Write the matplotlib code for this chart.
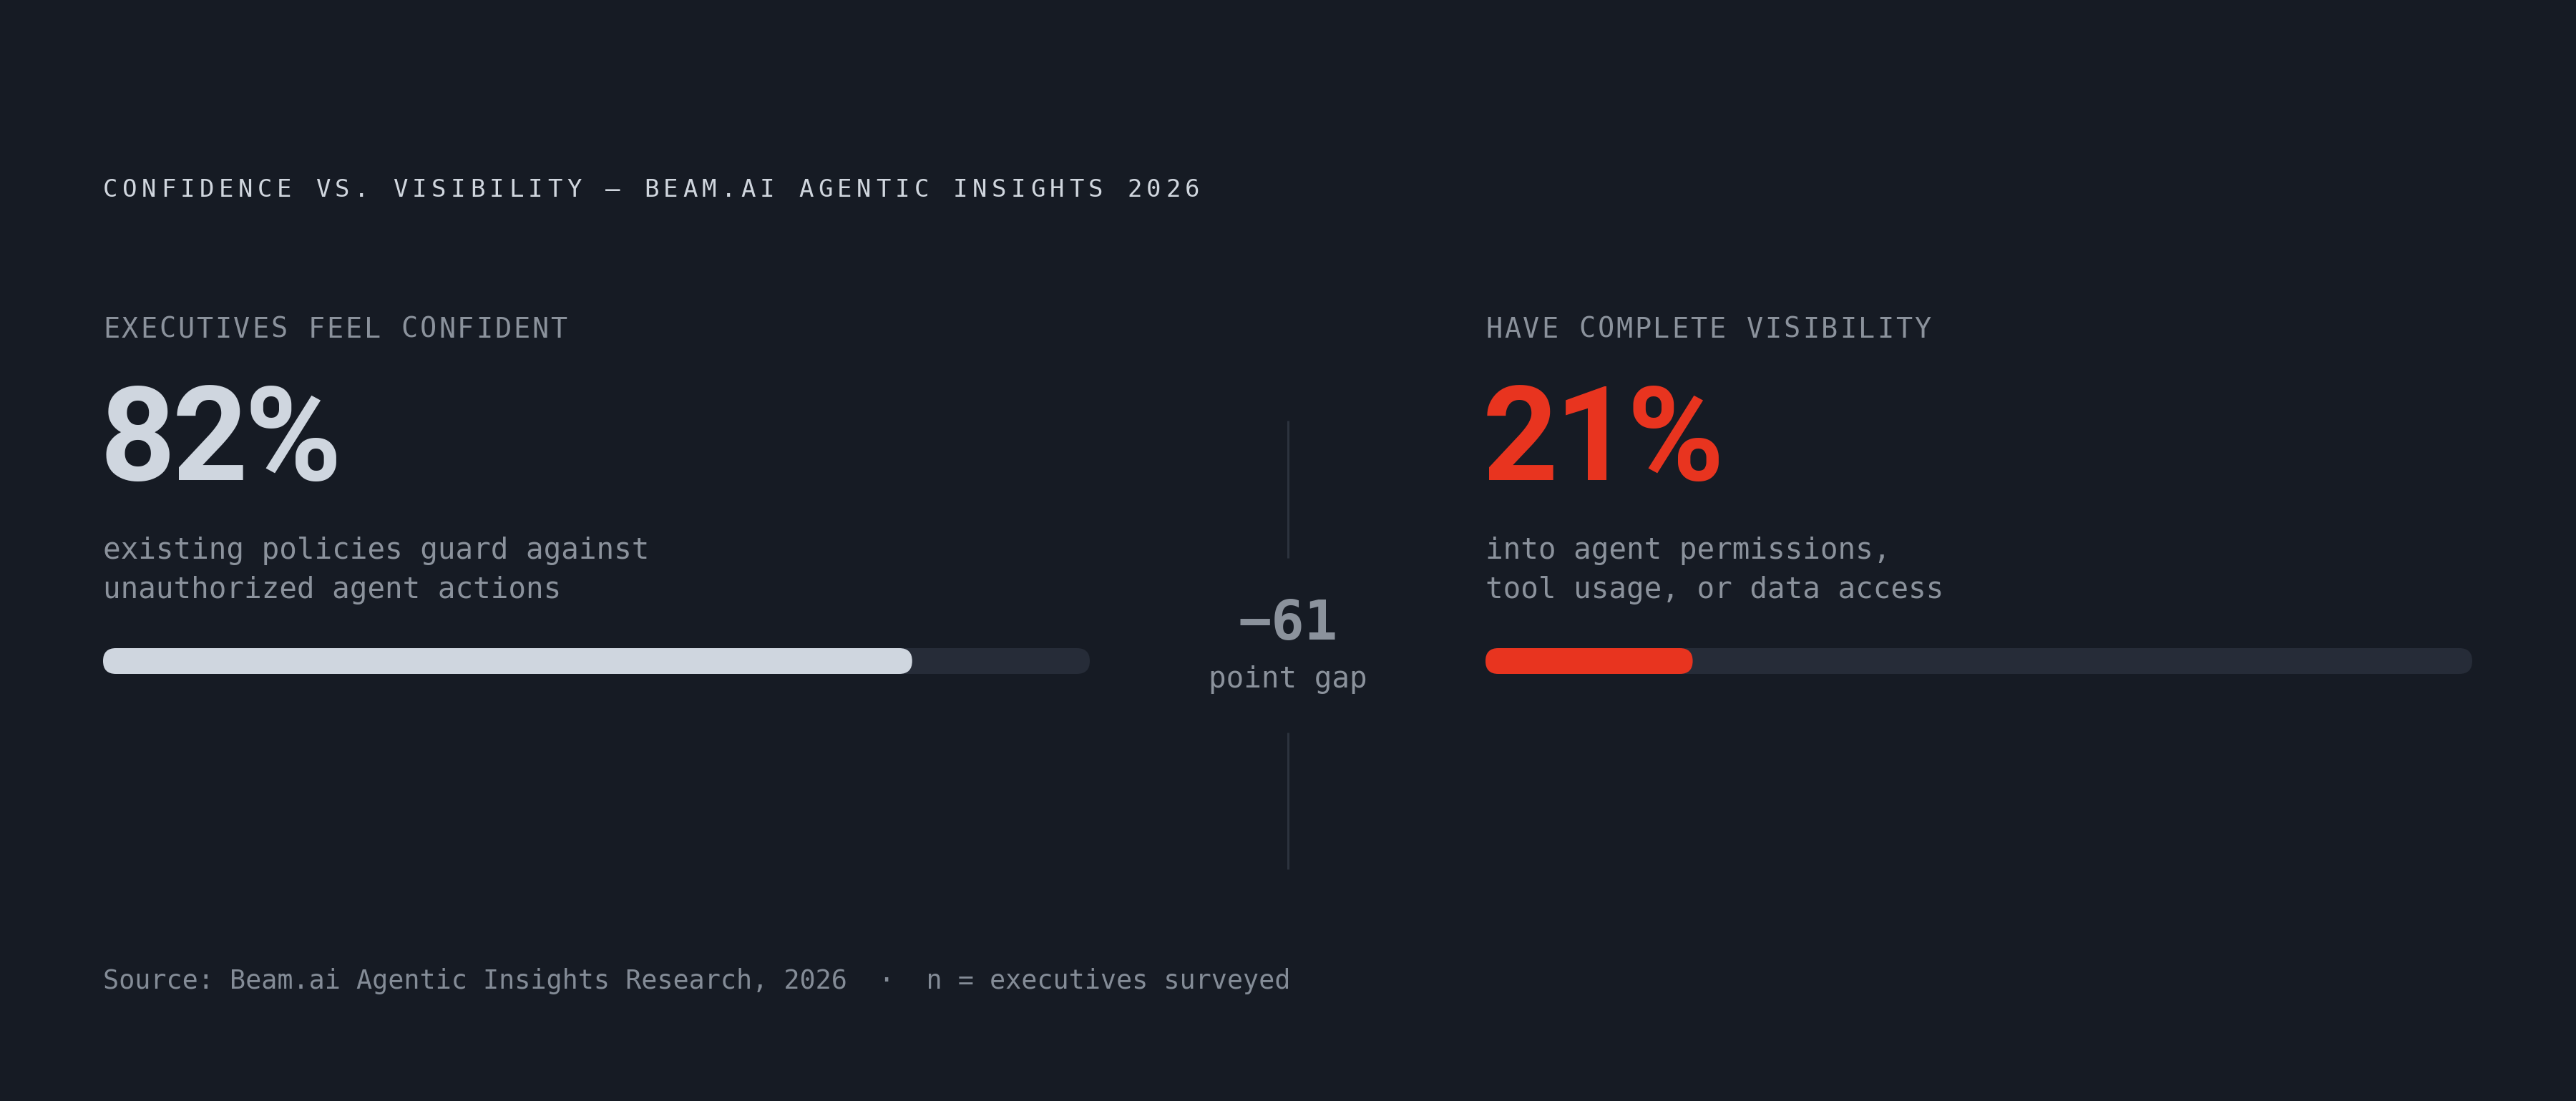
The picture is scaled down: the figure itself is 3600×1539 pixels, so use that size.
import matplotlib
matplotlib.use("Agg")
import matplotlib.pyplot as plt
from matplotlib.patches import FancyBboxPatch

# data
title = "CONFIDENCE VS. VISIBILITY — BEAM.AI AGENTIC INSIGHTS 2026"
labels = ["EXECUTIVES FEEL CONFIDENT", "HAVE COMPLETE VISIBILITY"]
values = [82, 21]
descriptions = [
    ["existing policies guard against", "unauthorized agent actions"],
    ["into agent permissions,", "tool usage, or data access"],
]
source = "Source: Beam.ai Agentic Insights Research, 2026  ·  n = executives surveyed"

BG = "#161b24"
TRACK = "#262c38"
MUTED = "#8b929c"
LIGHT = "#cfd6df"
RED = "#e8341f"
colors = [LIGHT, RED]

W, H = 3600, 1539
fig = plt.figure(figsize=(W / 100, H / 100), dpi=100, facecolor=BG)
ax = fig.add_axes([0, 0, 1, 1])
ax.set_xlim(0, W)
ax.set_ylim(H, 0)
ax.axis("off")
ax.set_facecolor(BG)
renderer = fig.canvas.get_renderer()

MONO = "DejaVu Sans Mono"


def pt(px):
    return px * 0.72


def spaced(x, y, s, step, size, color, weight="normal"):
    # monospace text with letter spacing, one glyph at a time
    for i, ch in enumerate(s):
        if ch == " ":
            continue
        ax.text(x + i * step, y, ch, fontsize=size, color=color, family=MONO,
                weight=weight, ha="left", va="baseline")


def tight(x, y, s, size, color, track):
    # proportional text with negative tracking
    for ch in s:
        t = ax.text(x, y, ch, fontsize=size, color=color, family="Roboto",
                    weight="bold", ha="left", va="baseline")
        bb = t.get_window_extent(renderer)
        x += bb.width + track


spaced(144, 275, title, 27.0, pt(34), "#d0d6de")

col_x = [144, 2076]
track_w = 1379
bar_top, bar_h = 906, 36

for i in range(2):
    x0 = col_x[i]
    spaced(x0, 472, labels[i], 26.05, pt(38.5), MUTED)
    tight(x0 - 4, 671, f"{values[i]}%", pt(184), colors[i], -5)
    for j, line in enumerate(descriptions[i]):
        ax.text(x0, 781 + j * 55, line, fontsize=pt(41), color=MUTED,
                family=MONO, ha="left", va="baseline")
    # track and fill
    ax.add_patch(FancyBboxPatch((x0, bar_top), track_w, bar_h,
                                boxstyle="round,pad=0,rounding_size=18",
                                fc=TRACK, ec="none"))
    ax.add_patch(FancyBboxPatch((x0, bar_top), track_w * values[i] / 100, bar_h,
                                boxstyle="round,pad=0,rounding_size=18",
                                fc=colors[i], ec="none"))

# center gap
gap = values[1] - values[0]
cx = 1800
ax.plot([cx, cx], [588, 780], color="#2c333e", lw=2.2, solid_capstyle="butt")
ax.plot([cx, cx], [1024, 1215], color="#2c333e", lw=2.2, solid_capstyle="butt")
ax.text(cx, 894, f"{gap}".replace("-", "−"), fontsize=pt(77), color=MUTED,
        family=MONO, weight="bold", ha="center", va="baseline")
ax.text(cx, 961, "point gap", fontsize=pt(41), color=MUTED, family=MONO,
        ha="center", va="baseline")

ax.text(144, 1382, source, fontsize=pt(36.8), color="#848c97", family=MONO,
        ha="left", va="baseline")

fig.savefig("out.png", dpi=100, facecolor=BG)
